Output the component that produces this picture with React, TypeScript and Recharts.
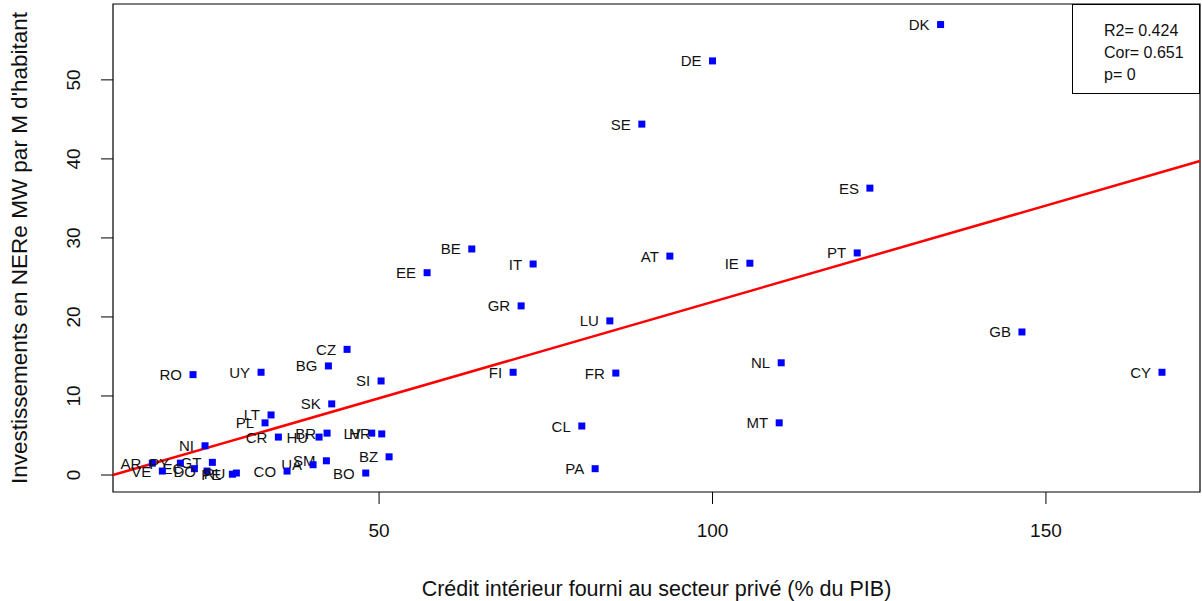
import {
  ReferenceArea,
  ReferenceLine,
  Scatter,
  ScatterChart,
  XAxis,
  YAxis
} from "recharts";

// country codes, credit to private sector (% GDP), NERe investment (MW per M inhabitants)
const countries = [
  "DK", "DE", "SE", "ES", "BE", "PT", "AT", "IE", "IT", "EE", "GR", "LU", "GB", "CZ", "NL", "BG",
  "FI", "CY", "UY", "FR", "RO", "SI", "SK", "LT", "PL", "MT", "CL", "BR", "LV", "HR", "CR", "HU",
  "NI", "BZ", "SM", "GT", "AR", "PY", "UA", "EC", "PA", "VE", "DO", "CO", "RU", "PE", "BO"
];
const credit = [
  134.2, 100.0, 89.4, 123.6, 63.9, 121.7, 93.6, 105.6, 73.1, 57.2, 71.3, 84.6, 146.4, 45.2, 110.3, 42.4,
  70.1, 167.4, 32.3, 85.5, 22.1, 50.3, 42.9, 33.8, 32.9, 110.0, 80.4, 42.2, 48.9, 50.4, 34.9, 41.0,
  23.9, 51.5, 42.1, 25.0, 16.0, 20.2, 40.1, 22.3, 82.4, 17.5, 24.2, 36.2, 28.6, 28.0, 48.0
];
const invest = [
  57.0, 52.4, 44.4, 36.3, 28.6, 28.1, 27.7, 26.8, 26.7, 25.6, 21.4, 19.5, 18.1, 15.9, 14.2, 13.8,
  13.0, 13.0, 13.0, 12.9, 12.7, 11.9, 9.0, 7.6, 6.6, 6.6, 6.2, 5.3, 5.3, 5.2, 4.8, 4.8,
  3.7, 2.3, 1.8, 1.6, 1.5, 1.5, 1.3, 0.8, 0.8, 0.5, 0.5, 0.5, 0.25, 0.1, 0.25
];

const xTicks = [50, 100, 150];
const yTicks = [0, 10, 20, 30, 40, 50];
const xDomain = [10.1, 173.1];
const yDomain = [-2.15, 59.6];

// fitted line
const intercept = -2.47;
const slope = 0.2438;

const stats = ["R2= 0.424", "Cor= 0.651", "p= 0"];

const font = "'Liberation Sans', Arial, sans-serif";

const data = countries.map((code, i) => ({ code, x: credit[i], y: invest[i] }));

const PointShape = (props: any) => {
  const { cx, cy, payload } = props;
  return (
    <g>
      <rect x={cx - 3.5} y={cy - 3.5} width={7} height={7} fill="#0000ff" />
      <text
        x={cx - 11}
        y={cy}
        textAnchor="end"
        dominantBaseline="central"
        fontSize={15}
        fontFamily={font}
        fill="#111"
      >
        {payload.code}
      </text>
    </g>
  );
};

const XTick = ({ x, y, payload }: any) => (
  <text x={x} y={y + 24} textAnchor="middle" dominantBaseline="central" fontSize={19} fontFamily={font} fill="#111">
    {payload.value}
  </text>
);

const YTick = ({ x, y, payload }: any) => (
  <text
    x={x - 25}
    y={y}
    transform={`rotate(-90 ${x - 25} ${y})`}
    textAnchor="middle"
    dominantBaseline="central"
    fontSize={19}
    fontFamily={font}
    fill="#111"
  >
    {payload.value}
  </text>
);

export default function App() {
  return (
    <div style={{ position: "absolute", left: 0, top: 0, width: 1202, height: 601, background: "#fff" }}>
      <ScatterChart width={1202} height={601} margin={{ top: 4, right: 2, bottom: 0, left: 0 }}>
        <XAxis
          type="number"
          dataKey="x"
          domain={xDomain}
          ticks={xTicks}
          allowDataOverflow
          axisLine={false}
          tickSize={12}
          tickLine={{ stroke: "#000" }}
          tick={<XTick />}
          height={109}
          label={{
            content: ({ viewBox }: any) => (
              <text
                x={viewBox.x + viewBox.width / 2}
                y={589}
                textAnchor="middle"
                dominantBaseline="central"
                fontSize={21.5}
                fontFamily={font}
                fill="#111"
              >
                Crédit intérieur fourni au secteur privé (% du PIB)
              </text>
            )
          }}
        />
        <YAxis
          type="number"
          dataKey="y"
          domain={yDomain}
          ticks={yTicks}
          allowDataOverflow
          axisLine={false}
          tickSize={12}
          tickLine={{ stroke: "#000" }}
          tick={<YTick />}
          width={113}
          label={{
            content: ({ viewBox }: any) => {
              const cy = viewBox.y + viewBox.height / 2;
              return (
                <text
                  x={19}
                  y={cy}
                  transform={`rotate(-90 19 ${cy})`}
                  textAnchor="middle"
                  dominantBaseline="central"
                  fontSize={22.5}
                  fontFamily={font}
                  fill="#111"
                >
                  Investissements en NERe MW par M d'habitant
                </text>
              );
            }
          }}
        />
        <ReferenceArea
          x1={xDomain[0]}
          x2={xDomain[1]}
          y1={yDomain[0]}
          y2={yDomain[1]}
          fill="none"
          stroke="#000"
          strokeWidth={1.2}
        />
        <ReferenceLine
          segment={[
            { x: xDomain[0], y: intercept + slope * xDomain[0] },
            { x: xDomain[1], y: intercept + slope * xDomain[1] }
          ]}
          stroke="#ff0000"
          strokeWidth={2.5}
        />
        <Scatter data={data} shape={<PointShape />} isAnimationActive={false} />
      </ScatterChart>
      <div
        style={{
          position: "absolute",
          left: 1072,
          top: 4,
          width: 128,
          height: 90,
          border: "1px solid #000",
          fontFamily: font,
          fontSize: 16,
          lineHeight: "22px",
          color: "#111",
          boxSizing: "border-box",
          paddingLeft: 31,
          paddingTop: 15
        }}
      >
        {stats.map((s) => (
          <div key={s}>{s}</div>
        ))}
      </div>
    </div>
  );
}
